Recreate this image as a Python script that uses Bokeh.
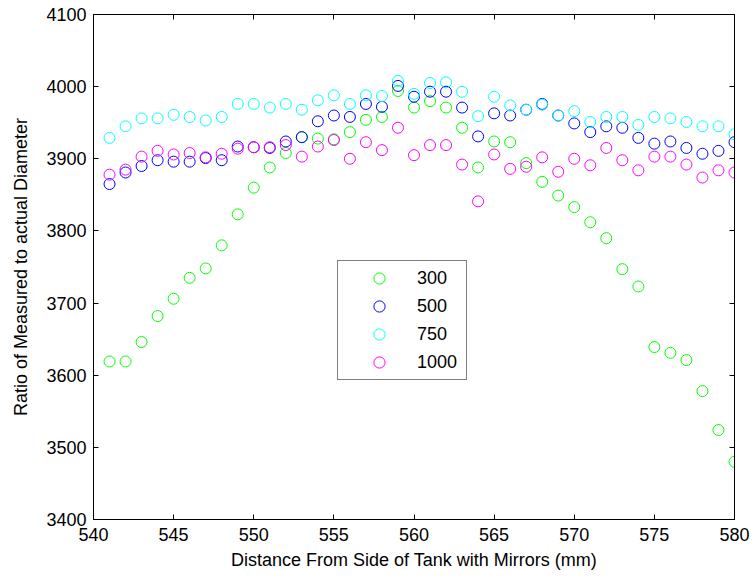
from bokeh.plotting import figure
from bokeh.models import ColumnDataSource, Range1d, LinearAxis, FixedTicker, Legend, LegendItem
from bokeh.embed import file_html
from bokeh.resources import INLINE

x_vals = list(range(541, 581))

s300 = [3619, 3619, 3646, 3682, 3706, 3735, 3748, 3780, 3823, 3860,
        3888, 3908, 3930, 3928, 3927, 3937, 3954, 3958, 3994, 3971,
        3980, 3971, 3943, 3888, 3924, 3923, 3894, 3868, 3849, 3833,
        3812, 3790, 3747, 3723, 3639, 3631, 3621, 3578, 3524, 3480]
s500 = [3865, 3881, 3890, 3898, 3896, 3896, 3901, 3898, 3917, 3916,
        3915, 3924, 3930, 3952, 3960, 3958, 3976, 3972, 4001, 3986,
        3993, 3993, 3971, 3931, 3963, 3960, 3968, 3976, 3960, 3949,
        3937, 3945, 3943, 3929, 3921, 3924, 3915, 3907, 3911, 3923]
s750 = [3929, 3945, 3956, 3956, 3961, 3958, 3953, 3958, 3976, 3976,
        3971, 3976, 3968, 3981, 3988, 3976, 3988, 3987, 4008, 3990,
        4005, 4006, 3993, 3959, 3986, 3974, 3968, 3975, 3960, 3966,
        3951, 3958, 3958, 3947, 3958, 3956, 3951, 3945, 3945, 3934]
s1000 = [3878, 3885, 3903, 3911, 3906, 3908, 3902, 3907, 3914, 3916,
         3916, 3919, 3903, 3917, 3926, 3900, 3923, 3912, 3943, 3905,
         3919, 3919, 3892, 3841, 3906, 3886, 3889, 3902, 3882, 3900,
         3891, 3915, 3898, 3884, 3903, 3903, 3892, 3874, 3884, 3881]

series_names = ["300", "500", "750", "1000"]
series_colors = ["#00ff00", "#0000ff", "#00ffff", "#ff00ff"]
x_ticks = [540, 545, 550, 555, 560, 565, 570, 575, 580]
y_ticks = [3400, 3500, 3600, 3700, 3800, 3900, 4000, 4100]

FONT = "Liberation Sans"

p = figure(width=755, height=578, output_backend="svg", toolbar_location=None,
           x_range=Range1d(540, 580), y_range=Range1d(3400, 4100),
           min_border_left=93, min_border_right=21, min_border_top=14, min_border_bottom=59)
p.background_fill_color = "white"
p.border_fill_color = "white"
p.grid.visible = False
p.outline_line_color = "black"
p.outline_line_width = 1

for ax in (p.xaxis[0], p.yaxis[0]):
    ax.major_tick_in = 5
    ax.major_tick_out = 0
    ax.minor_tick_line_color = None
    ax.axis_line_color = "black"
    ax.major_tick_line_color = "black"
    ax.major_label_text_font = FONT
    ax.major_label_text_font_size = "18px"
    ax.major_label_text_color = "black"
    ax.axis_label_text_font = FONT
    ax.axis_label_text_font_size = "18px"
    ax.axis_label_text_font_style = "normal"
    ax.axis_label_text_color = "black"

p.xaxis.ticker = FixedTicker(ticks=x_ticks)
p.yaxis.ticker = FixedTicker(ticks=y_ticks)
p.xaxis.axis_label = "Distance From Side of Tank with Mirrors (mm)"
p.yaxis.axis_label = "Ratio of Measured to actual Diameter"
p.xaxis.major_label_standoff = 8
p.xaxis.axis_label_standoff = 6
p.yaxis.major_label_standoff = 7
p.yaxis.axis_label_standoff = 12

# Mirror axes (ticks only) on the top and right, like a boxed MATLAB axes
top_ax = LinearAxis(ticker=FixedTicker(ticks=x_ticks), major_tick_in=5, major_tick_out=0,
                    minor_tick_line_color=None, major_label_standoff=0,
                    major_label_overrides={t: "" for t in x_ticks},
                    axis_line_color="black")
right_ax = LinearAxis(ticker=FixedTicker(ticks=y_ticks), major_tick_in=5, major_tick_out=0,
                      minor_tick_line_color=None, major_label_standoff=0,
                      major_label_overrides={t: "" for t in y_ticks},
                      axis_line_color="black")
p.add_layout(top_ax, "above")
p.add_layout(right_ax, "right")

items = []
for name, col, vals in zip(series_names, series_colors, [s300, s500, s750, s1000]):
    src = ColumnDataSource(dict(x=x_vals, y=vals))
    r = p.scatter("x", "y", source=src, marker="circle", size=11, fill_color=None,
                  line_color=col, line_width=1)
    items.append(LegendItem(label=name, renderers=[r]))

legend = Legend(items=items, location=(244, 139), orientation="vertical",
                border_line_color="black", border_line_width=1, background_fill_color="white",
                background_fill_alpha=1, padding=3, spacing=0, glyph_width=76, glyph_height=28,
                label_standoff=0, label_width=46, label_height=28, margin=0,
                label_text_font=FONT, label_text_font_size="18px", label_text_color="black")
p.add_layout(legend, "center")

open("out.html", "w").write(file_html(p, INLINE))
